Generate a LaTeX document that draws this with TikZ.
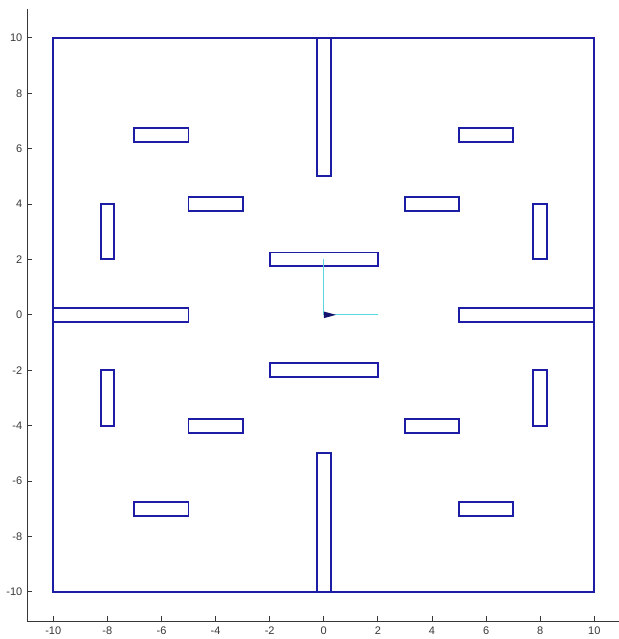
\documentclass[tikz,border=0pt]{standalone}
\usepackage{fontspec}
\setmainfont{Liberation Sans}
\definecolor{wall}{RGB}{28,28,165}
\definecolor{robotbody}{RGB}{20,20,110}
\definecolor{robotline}{RGB}{95,215,225}
\definecolor{axisgray}{RGB}{55,55,55}
\begin{document}
\begin{tikzpicture}[x=27.05pt,y=27.7pt,
  wallbox/.style={draw=wall,line width=1.9pt},
  axisline/.style={draw=axisgray,line width=0.8pt},
  ticklabel/.style={font=\fontsize{11}{13}\selectfont,text=axisgray,inner sep=0pt}]
\useasboundingbox (-11.970,-11.702) rectangle (10.913,11.366);
% axes
\draw[axisline] (-10.972,11.04) -- (-10.972,-11.052) -- (10.913,-11.052);
\foreach \v in {-10,-8,...,10} {
  \draw[axisline] (\v,-11.052) -- (\v,-10.87);
  \node[ticklabel,anchor=center] at (\v,-11.40) {\v};
  \draw[axisline] (-10.972,\v) -- (-10.787,\v);
  \node[ticklabel,anchor=east] at (-11.14,\v) {\v};
}
% outer wall
\draw[wallbox] (-10,-10) rectangle (10,10);
% long walls
\draw[wallbox] (-0.25,5) rectangle (0.25,10);
\draw[wallbox] (-0.25,-10) rectangle (0.25,-5);
\draw[wallbox] (-10,-0.25) rectangle (-5,0.25);
\draw[wallbox] (5,-0.25) rectangle (10,0.25);
% centre walls
\draw[wallbox] (-2,1.75) rectangle (2,2.25);
\draw[wallbox] (-2,-2.25) rectangle (2,-1.75);
% small obstacles
\foreach \sx in {-1,1} {
  \draw[wallbox] (\sx*5,6.25) rectangle (\sx*7,6.75);
  \draw[wallbox] (\sx*5,-7.25) rectangle (\sx*7,-6.75);
  \foreach \sy in {-1,1} {
    \draw[wallbox] (\sx*3,\sy*3.75) rectangle (\sx*5,\sy*4.25);
    \draw[wallbox] (\sx*7.75,\sy*2) rectangle (\sx*8.25,\sy*4);
  }
}
% robot
\coordinate (robot) at (0,0);
\coordinate (yaxisend) at (0,2);
\coordinate (xaxisend) at (2,0);
\draw[robotline,line width=0.9pt] (yaxisend) -- (robot) -- (xaxisend);
\fill[robotbody] (0,0.12) -- (0.45,0) -- (0,-0.12) -- cycle;
\end{tikzpicture}
\end{document}
